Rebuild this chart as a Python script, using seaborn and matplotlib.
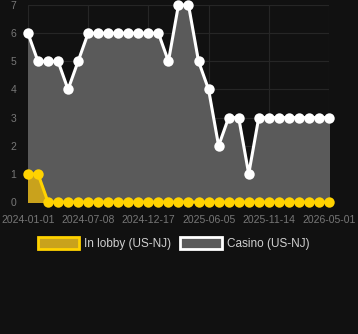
import matplotlib
matplotlib.use("Agg")
import matplotlib.pyplot as plt
import matplotlib.patches as mpatches
import seaborn as sns
import pandas as pd
import numpy as np

tick_labels = ["2024-01-01", "2024-07-08", "2024-12-17", "2025-06-05", "2025-11-14", "2026-05-01"]
casino = [6, 5, 5, 5, 4, 5, 6, 6, 6, 6, 6, 6, 6, 6, 5, 7, 7, 5, 4, 2, 3, 3, 1, 3, 3, 3, 3, 3, 3, 3, 3]
lobby = [1, 1, 0, 0, 0, 0, 0, 0, 0, 0, 0, 0, 0, 0, 0, 0, 0, 0, 0, 0, 0, 0, 0, 0, 0, 0, 0, 0, 0, 0, 0]
series_names = ["In lobby (US-NJ)", "Casino (US-NJ)"]

BG = "#111111"
sns.set_theme(style="dark")
plt.rcParams["font.family"] = ["Liberation Sans", "DejaVu Sans"]

fig = plt.figure(figsize=(3.58, 3.34), dpi=100, facecolor=BG)
ax = fig.add_axes([0.078, 0.395, 0.841, 0.59])
ax.set_facecolor(BG)

idx = np.arange(len(casino))
df = pd.DataFrame({"i": idx, "casino": casino, "lobby": lobby})

ax.fill_between(df["i"], df["casino"], color="#5a5a5a", zorder=1)
ax.fill_between(df["i"], df["lobby"], color="#c9a21c", zorder=2)
sns.lineplot(data=df, x="i", y="casino", ax=ax, color="white", lw=2.2,
             marker="o", markersize=7.5, markeredgewidth=0, zorder=3, clip_on=False)
sns.lineplot(data=df, x="i", y="lobby", ax=ax, color="#ffd200", lw=2.2,
             marker="o", markersize=7.5, markeredgewidth=0, zorder=4, clip_on=False)

ax.set_xlim(0, len(casino) - 1)
ax.set_ylim(0, 7)
ax.set_xticks(np.linspace(0, len(casino) - 1, len(tick_labels)))
ax.set_xticklabels(tick_labels)
ax.set_yticks(range(0, 8))
ax.set_xlabel("")
ax.set_ylabel("")
ax.tick_params(colors="#777777", labelsize=7.5, length=0)
ax.tick_params(axis="y", pad=8.5)
ax.tick_params(axis="x", pad=9)
ax.grid(True, color="#262626", lw=0.8)
ax.set_axisbelow(True)
for s in ax.spines.values():
    s.set_visible(False)

handles = [
    mpatches.Patch(facecolor="#c9a21c", edgecolor="#ffd200", lw=2, label=series_names[0]),
    mpatches.Patch(facecolor="#5a5a5a", edgecolor="white", lw=2, label=series_names[1]),
]
leg = fig.legend(handles=handles, loc="center", bbox_to_anchor=(0.485, 0.272), ncol=2,
                 frameon=False, fontsize=8.5, handlelength=3.5, handleheight=1.2,
                 columnspacing=0.75, handletextpad=0.45)
for t in leg.get_texts():
    t.set_color("#d0d0d0")

fig.savefig("out.png", dpi=100, facecolor=BG)
